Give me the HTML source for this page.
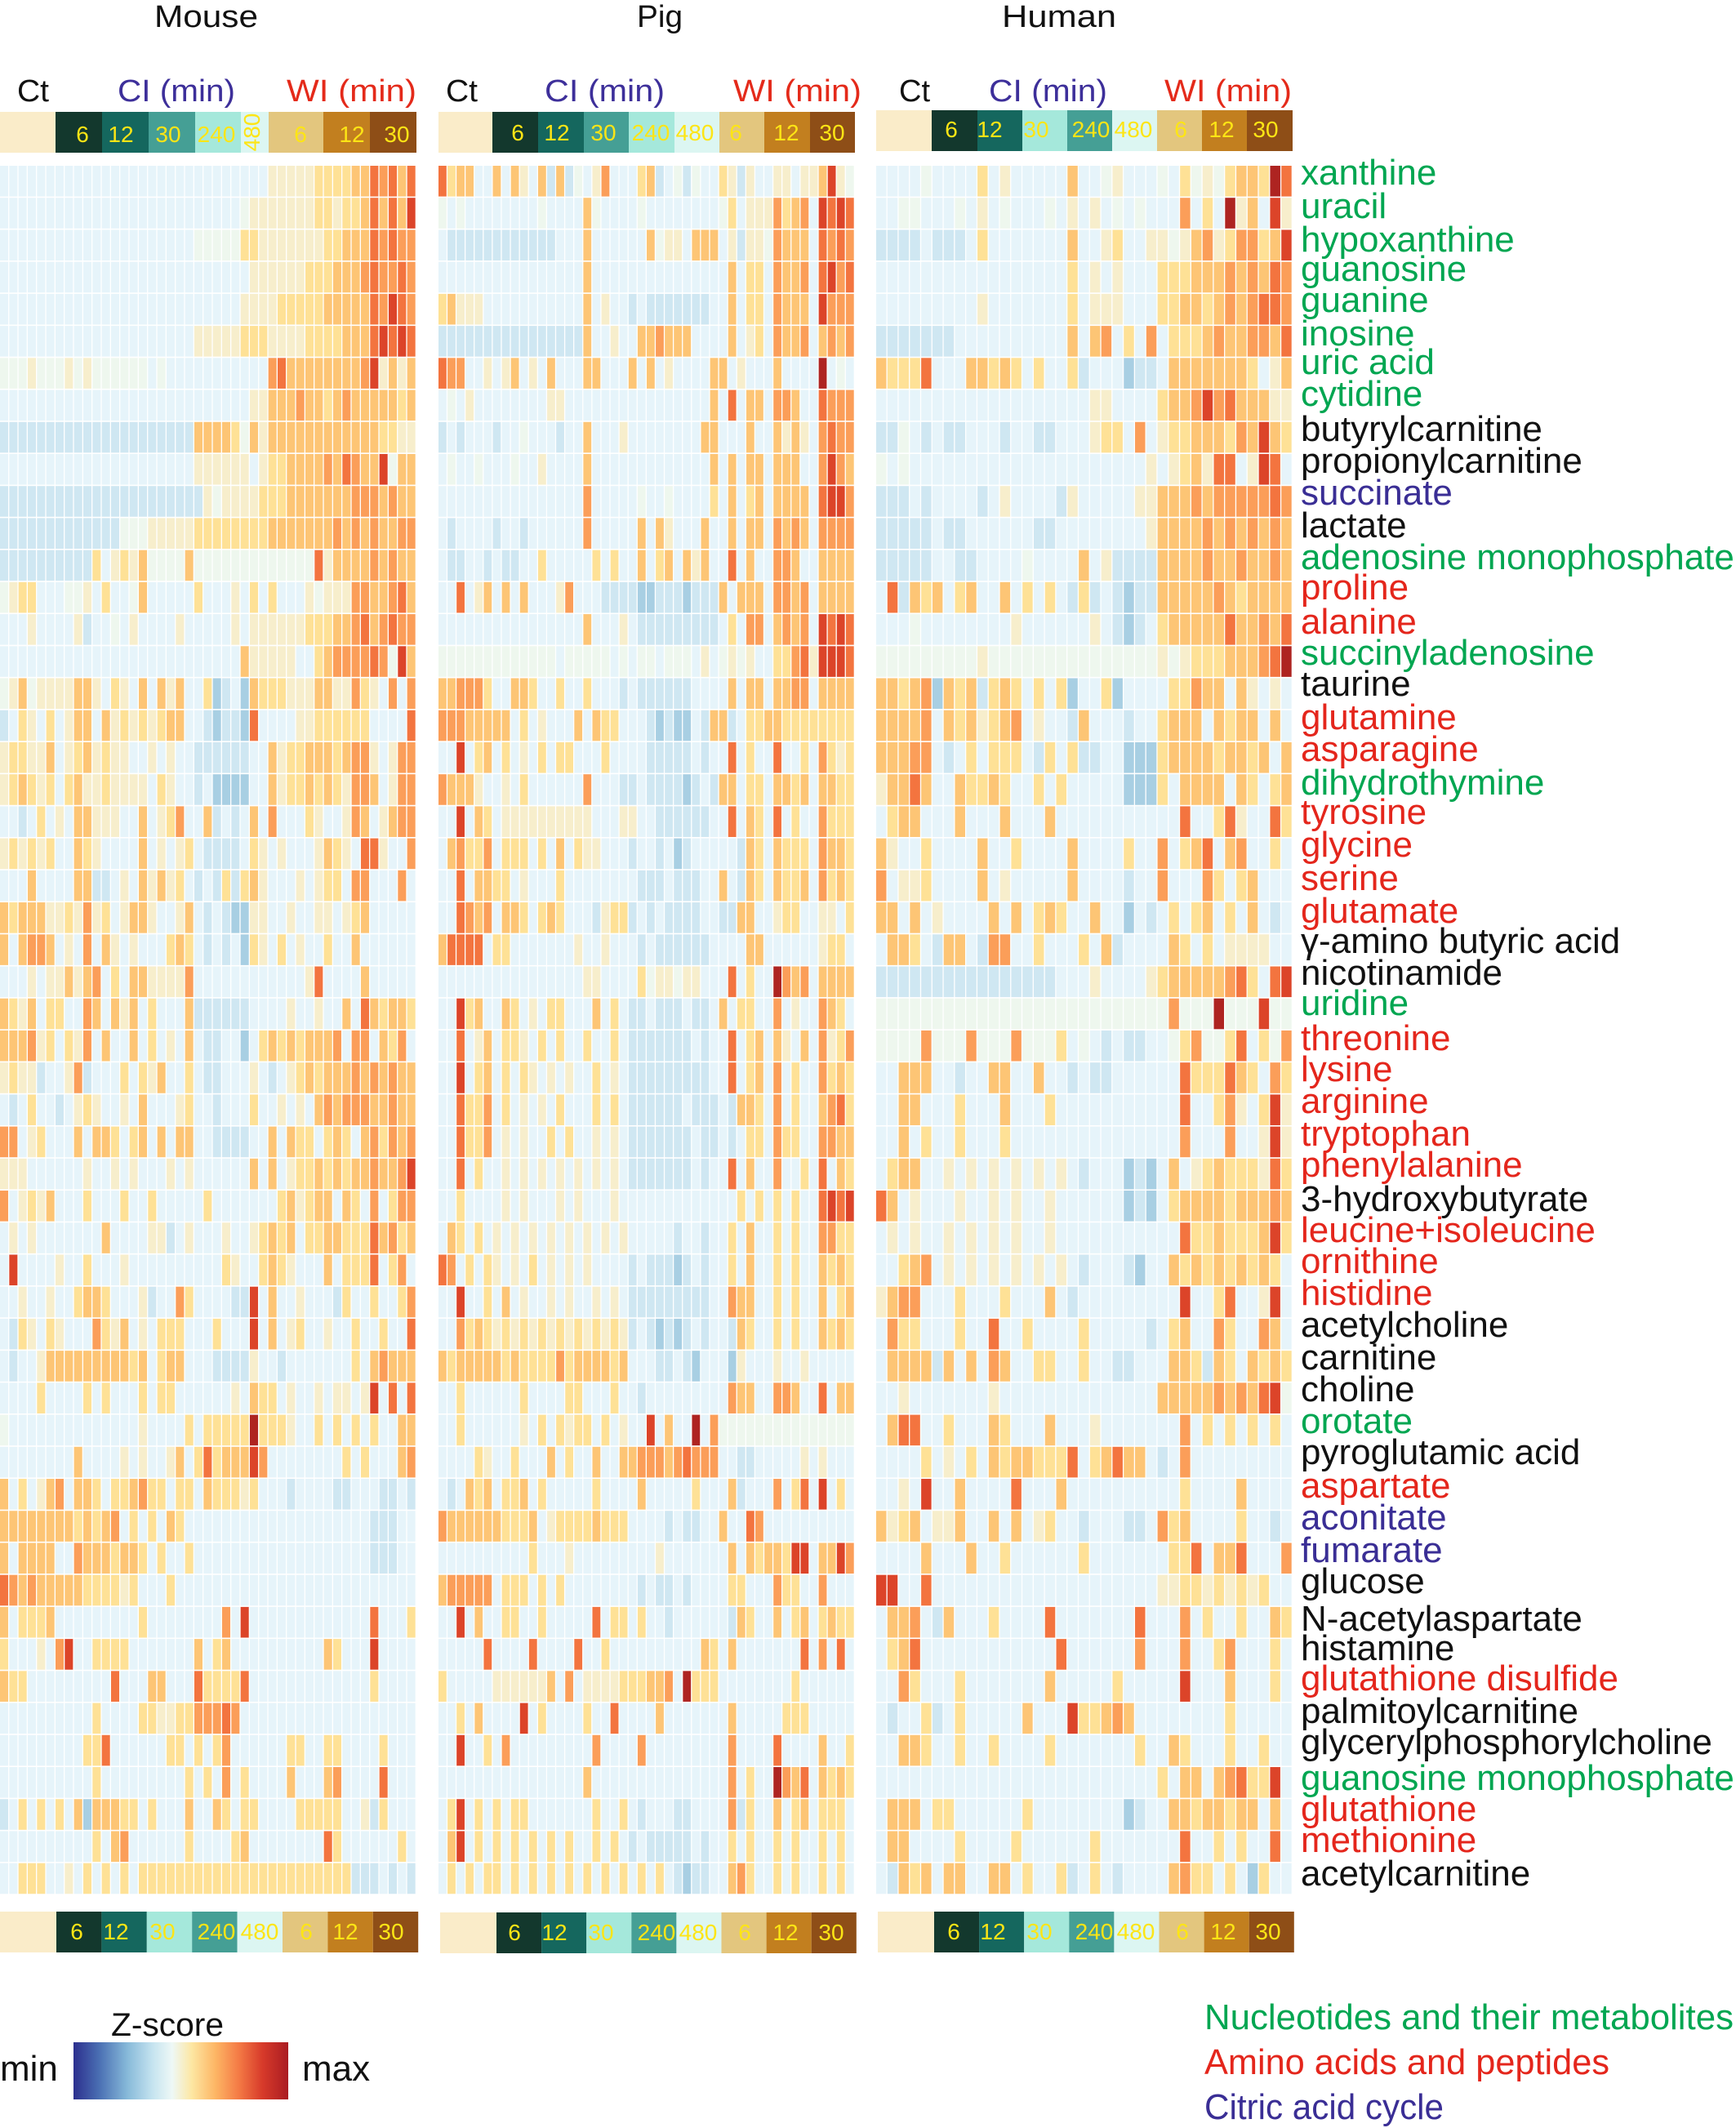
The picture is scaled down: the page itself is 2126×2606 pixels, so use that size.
<!DOCTYPE html>
<html>
<head>
<meta charset="utf-8">
<style>
html,body{margin:0;padding:0;background:#ffffff;}
svg{display:block;}
text{font-family:"Liberation Sans",Arial,sans-serif;}
.lab{font-size:44px;}
.g{fill:#00a651;}
.r{fill:#e4261c;}
.b{fill:#3a2e95;}
.k{fill:#111111;}
.num{font-size:28px;fill:#fde515;text-anchor:middle;}
</style>
</head>
<body>
<svg id="s" width="2126" height="2606" viewBox="0 0 2126 2606" xmlns="http://www.w3.org/2000/svg">
<defs>
<linearGradient id="zg" x1="0" x2="1" y1="0" y2="0">
<stop offset="0" stop-color="#2c2f8e"/>
<stop offset="0.12" stop-color="#4a6fb3"/>
<stop offset="0.25" stop-color="#86b9d9"/>
<stop offset="0.37" stop-color="#c6e4f0"/>
<stop offset="0.46" stop-color="#eef8f6"/>
<stop offset="0.55" stop-color="#fde7a3"/>
<stop offset="0.66" stop-color="#fdb665"/>
<stop offset="0.77" stop-color="#f47a45"/>
<stop offset="0.88" stop-color="#d73a2a"/>
<stop offset="1" stop-color="#aa1c22"/>
</linearGradient>
</defs>
<rect x="0" y="0" width="2126" height="2606" fill="#ffffff"/>

<!-- Titles -->
<text x="189" y="33" font-size="38" textLength="127" lengthAdjust="spacingAndGlyphs" fill="#111">Mouse</text>
<text x="780" y="33" font-size="38" textLength="56" lengthAdjust="spacingAndGlyphs" fill="#111">Pig</text>
<text x="1227" y="33" font-size="38" textLength="140" lengthAdjust="spacingAndGlyphs" fill="#111">Human</text>

<!-- Group headers -->
<text x="21" y="124" font-size="38" textLength="39" lengthAdjust="spacingAndGlyphs" fill="#111">Ct</text>
<text x="144" y="124" font-size="38" textLength="144" lengthAdjust="spacingAndGlyphs" fill="#3d2f9a">CI (min)</text>
<text x="351" y="124" font-size="38" textLength="159" lengthAdjust="spacingAndGlyphs" fill="#e42a1a">WI (min)</text>
<text x="546" y="124" font-size="38" textLength="39" lengthAdjust="spacingAndGlyphs" fill="#111">Ct</text>
<text x="667" y="124" font-size="38" textLength="147" lengthAdjust="spacingAndGlyphs" fill="#3d2f9a">CI (min)</text>
<text x="898" y="124" font-size="38" textLength="157" lengthAdjust="spacingAndGlyphs" fill="#e42a1a">WI (min)</text>
<text x="1101" y="124" font-size="38" textLength="38" lengthAdjust="spacingAndGlyphs" fill="#111">Ct</text>
<text x="1211" y="124" font-size="38" textLength="145" lengthAdjust="spacingAndGlyphs" fill="#3d2f9a">CI (min)</text>
<text x="1426" y="124" font-size="38" textLength="156" lengthAdjust="spacingAndGlyphs" fill="#e42a1a">WI (min)</text>

<!-- Top bars: Mouse -->
<rect x="0" y="137" width="68" height="50" fill="#faecc9"/>
<rect x="68" y="137" width="57" height="50" fill="#13382d"/>
<rect x="125" y="137" width="57" height="50" fill="#15675e"/>
<rect x="182" y="137" width="57" height="50" fill="#459f95"/>
<rect x="239" y="137" width="56" height="50" fill="#a5e8db"/>
<rect x="295" y="137" width="34" height="50" fill="#dcf6f2"/>
<rect x="329" y="137" width="67" height="50" fill="#e3c67e"/>
<rect x="396" y="137" width="57" height="50" fill="#c27f1f"/>
<rect x="453" y="137" width="57" height="50" fill="#8e4e17"/>
<text class="num" x="101" y="174">6</text>
<text class="num" x="148" y="174">12</text>
<text class="num" x="206" y="174">30</text>
<text class="num" x="265" y="174">240</text>
<text class="num" font-size="26" transform="translate(318,162) rotate(-90)" x="0" y="0">480</text>
<text class="num" x="368" y="174">6</text>
<text class="num" x="431" y="174">12</text>
<text class="num" x="486" y="174">30</text>

<!-- Top bars: Pig -->
<rect x="537" y="137" width="66" height="50" fill="#faecc9"/>
<rect x="603" y="137" width="56" height="50" fill="#13382d"/>
<rect x="659" y="137" width="56" height="50" fill="#15675e"/>
<rect x="715" y="137" width="55" height="50" fill="#459f95"/>
<rect x="770" y="137" width="56" height="50" fill="#a5e8db"/>
<rect x="826" y="137" width="55" height="50" fill="#dcf6f2"/>
<rect x="881" y="137" width="55" height="50" fill="#e3c67e"/>
<rect x="936" y="137" width="56" height="50" fill="#c27f1f"/>
<rect x="992" y="137" width="55" height="50" fill="#8e4e17"/>
<text class="num" x="634" y="172">6</text>
<text class="num" x="682" y="172">12</text>
<text class="num" x="739" y="172">30</text>
<text class="num" x="797" y="172">240</text>
<text class="num" x="851" y="172">480</text>
<text class="num" x="901" y="172">6</text>
<text class="num" x="963" y="172">12</text>
<text class="num" x="1019" y="172">30</text>

<!-- Top bars: Human -->
<rect x="1073" y="135" width="68" height="50" fill="#faecc9"/>
<rect x="1141" y="135" width="56" height="50" fill="#13382d"/>
<rect x="1197" y="135" width="55" height="50" fill="#15675e"/>
<rect x="1252" y="135" width="55" height="50" fill="#a5e8db"/>
<rect x="1307" y="135" width="55" height="50" fill="#459f95"/>
<rect x="1362" y="135" width="55" height="50" fill="#dcf6f2"/>
<rect x="1417" y="135" width="55" height="50" fill="#e3c67e"/>
<rect x="1472" y="135" width="55" height="50" fill="#c27f1f"/>
<rect x="1527" y="135" width="56" height="50" fill="#8e4e17"/>
<text class="num" x="1165" y="168">6</text>
<text class="num" x="1212" y="168">12</text>
<text class="num" x="1269" y="168">30</text>
<text class="num" x="1336" y="168">240</text>
<text class="num" x="1388" y="168">480</text>
<text class="num" x="1446" y="168">6</text>
<text class="num" x="1496" y="168">12</text>
<text class="num" x="1550" y="168">30</text>

<!-- Heatmap cells (generated) -->
<g id="cells"></g>

<!-- Bottom bars: Mouse -->
<rect x="0" y="2341" width="69" height="50" fill="#faecc9"/>
<rect x="69" y="2341" width="55.4" height="50" fill="#13382d"/>
<rect x="124.4" y="2341" width="55.4" height="50" fill="#15675e"/>
<rect x="179.8" y="2341" width="55.4" height="50" fill="#a5e8db"/>
<rect x="235.2" y="2341" width="55.4" height="50" fill="#459f95"/>
<rect x="290.6" y="2341" width="55.4" height="50" fill="#dcf6f2"/>
<rect x="346" y="2341" width="55.4" height="50" fill="#e3c67e"/>
<rect x="401.4" y="2341" width="55.4" height="50" fill="#c27f1f"/>
<rect x="456.8" y="2341" width="55.4" height="50" fill="#8e4e17"/>
<text class="num" x="94" y="2375">6</text>
<text class="num" x="142" y="2375">12</text>
<text class="num" x="199" y="2375">30</text>
<text class="num" x="265" y="2375">240</text>
<text class="num" x="318" y="2375">480</text>
<text class="num" x="375" y="2375">6</text>
<text class="num" x="423" y="2375">12</text>
<text class="num" x="479" y="2375">30</text>

<!-- Bottom bars: Pig -->
<rect x="539" y="2342" width="69" height="50" fill="#faecc9"/>
<rect x="608" y="2342" width="55.1" height="50" fill="#13382d"/>
<rect x="663.1" y="2342" width="55.1" height="50" fill="#15675e"/>
<rect x="718.2" y="2342" width="55.1" height="50" fill="#a5e8db"/>
<rect x="773.3" y="2342" width="55.1" height="50" fill="#459f95"/>
<rect x="828.4" y="2342" width="55.1" height="50" fill="#dcf6f2"/>
<rect x="883.5" y="2342" width="55.1" height="50" fill="#e3c67e"/>
<rect x="938.6" y="2342" width="55.1" height="50" fill="#c27f1f"/>
<rect x="993.7" y="2342" width="55.1" height="50" fill="#8e4e17"/>
<text class="num" x="630" y="2376">6</text>
<text class="num" x="679" y="2376">12</text>
<text class="num" x="736" y="2376">30</text>
<text class="num" x="804" y="2376">240</text>
<text class="num" x="855" y="2376">480</text>
<text class="num" x="912" y="2376">6</text>
<text class="num" x="962" y="2376">12</text>
<text class="num" x="1018" y="2376">30</text>

<!-- Bottom bars: Human -->
<rect x="1075" y="2341" width="69" height="50" fill="#faecc9"/>
<rect x="1144" y="2341" width="55.1" height="50" fill="#13382d"/>
<rect x="1199.1" y="2341" width="55.1" height="50" fill="#15675e"/>
<rect x="1254.2" y="2341" width="55.1" height="50" fill="#a5e8db"/>
<rect x="1309.3" y="2341" width="55.1" height="50" fill="#459f95"/>
<rect x="1364.4" y="2341" width="55.1" height="50" fill="#dcf6f2"/>
<rect x="1419.5" y="2341" width="55.1" height="50" fill="#e3c67e"/>
<rect x="1474.6" y="2341" width="55.1" height="50" fill="#c27f1f"/>
<rect x="1529.7" y="2341" width="55.1" height="50" fill="#8e4e17"/>
<text class="num" x="1168" y="2375">6</text>
<text class="num" x="1216" y="2375">12</text>
<text class="num" x="1273" y="2375">30</text>
<text class="num" x="1340" y="2375">240</text>
<text class="num" x="1391" y="2375">480</text>
<text class="num" x="1448" y="2375">6</text>
<text class="num" x="1498" y="2375">12</text>
<text class="num" x="1553" y="2375">30</text>

<!-- Row labels -->
<text class="lab g" x="1593" y="226">xanthine</text>
<text class="lab g" x="1593" y="267">uracil</text>
<text class="lab g" x="1593" y="308">hypoxanthine</text>
<text class="lab g" x="1593" y="344">guanosine</text>
<text class="lab g" x="1593" y="382">guanine</text>
<text class="lab g" x="1593" y="423">inosine</text>
<text class="lab g" x="1593" y="458">uric acid</text>
<text class="lab g" x="1593" y="497">cytidine</text>
<text class="lab k" x="1593" y="540">butyrylcarnitine</text>
<text class="lab k" x="1593" y="579">propionylcarnitine</text>
<text class="lab b" x="1593" y="618">succinate</text>
<text class="lab k" x="1593" y="658">lactate</text>
<text class="lab g" x="1593" y="697">adenosine monophosphate</text>
<text class="lab r" x="1593" y="734">proline</text>
<text class="lab r" x="1593" y="776">alanine</text>
<text class="lab g" x="1593" y="814">succinyladenosine</text>
<text class="lab k" x="1593" y="852">taurine</text>
<text class="lab r" x="1593" y="893">glutamine</text>
<text class="lab r" x="1593" y="932">asparagine</text>
<text class="lab g" x="1593" y="973">dihydrothymine</text>
<text class="lab r" x="1593" y="1009">tyrosine</text>
<text class="lab r" x="1593" y="1049">glycine</text>
<text class="lab r" x="1593" y="1090">serine</text>
<text class="lab r" x="1593" y="1130">glutamate</text>
<text class="lab k" x="1593" y="1167">γ-amino butyric acid</text>
<text class="lab k" x="1593" y="1206">nicotinamide</text>
<text class="lab g" x="1593" y="1243">uridine</text>
<text class="lab r" x="1593" y="1286">threonine</text>
<text class="lab r" x="1593" y="1324">lysine</text>
<text class="lab r" x="1593" y="1363">arginine</text>
<text class="lab r" x="1593" y="1403">tryptophan</text>
<text class="lab r" x="1593" y="1441">phenylalanine</text>
<text class="lab k" x="1593" y="1483">3-hydroxybutyrate</text>
<text class="lab r" x="1593" y="1521">leucine+isoleucine</text>
<text class="lab r" x="1593" y="1559">ornithine</text>
<text class="lab r" x="1593" y="1598">histidine</text>
<text class="lab k" x="1593" y="1637">acetylcholine</text>
<text class="lab k" x="1593" y="1677">carnitine</text>
<text class="lab k" x="1593" y="1716">choline</text>
<text class="lab g" x="1593" y="1755">orotate</text>
<text class="lab k" x="1593" y="1793">pyroglutamic acid</text>
<text class="lab r" x="1593" y="1834">aspartate</text>
<text class="lab b" x="1593" y="1873">aconitate</text>
<text class="lab b" x="1593" y="1913">fumarate</text>
<text class="lab k" x="1593" y="1951">glucose</text>
<text class="lab k" x="1593" y="1997">N-acetylaspartate</text>
<text class="lab k" x="1593" y="2033">histamine</text>
<text class="lab r" x="1593" y="2070">glutathione disulfide</text>
<text class="lab k" x="1593" y="2110">palmitoylcarnitine</text>
<text class="lab k" x="1593" y="2148">glycerylphosphorylcholine</text>
<text class="lab g" x="1593" y="2192">guanosine monophosphate</text>
<text class="lab r" x="1593" y="2230">glutathione</text>
<text class="lab r" x="1593" y="2268">methionine</text>
<text class="lab k" x="1593" y="2309">acetylcarnitine</text>

<!-- Z-score legend -->
<text x="136" y="2493" font-size="40" textLength="138" lengthAdjust="spacingAndGlyphs" fill="#111">Z-score</text>
<rect x="90" y="2501" width="263" height="70" fill="url(#zg)"/>
<text x="0" y="2548" font-size="44" fill="#111">min</text>
<text x="370" y="2548" font-size="44" fill="#111">max</text>

<!-- Category legend -->
<text x="1475" y="2485" font-size="44" textLength="648" lengthAdjust="spacingAndGlyphs" fill="#00a651">Nucleotides and their metabolites</text>
<text x="1475" y="2540" font-size="44" textLength="496" lengthAdjust="spacingAndGlyphs" fill="#e4261c">Amino acids and peptides</text>
<text x="1475" y="2595" font-size="44" textLength="293" lengthAdjust="spacingAndGlyphs" fill="#3a2e95">Citric acid cycle</text>
</svg>

<script>
(function(){
var pal={'1':'#a8cfe3','2':'#cfe7f2','3':'#e6f4fa','4':'#eef7ee','5':'#f7eecc','6':'#fee196','7':'#fdc575','8':'#fb9e59','9':'#f3743f','A':'#dc4429','B':'#ae2421'};
var panels=[
 {x0:0,pitch:11.333,groups:[6,5,5,5,5,3,6,5,5]},
 {x0:537,pitch:11.087,groups:[6,5,5,5,5,5,5,5,5]},
 {x0:1073,pitch:13.784,groups:[5,4,4,4,4,4,4,4,4]}
];
var D=[
["333333 33333 33333 33333 33333 333 555556 66677 98979","967733 73753 72724 35833 36723 42433 65253 35535 57A54","33334 3333 6353 3333 7334 5333 4364 5467 76B9"],
["333333 33333 33333 33333 33333 455 555556 65667 9797A","434333 33333 43333 74333 34333 33333 46355 58678 3A9A9","33443 3343 5343 3343 5353 4343 3383 63B5 73A5"],
["333333 33333 33333 33333 44444 665 555555 66777 98988","322222 22222 22333 73333 33745 53777 35255 48777 39898","22223 2223 6333 3333 7335 6335 5457 8568 867A"],
["333333 33333 33333 33333 33333 355 555566 67778 98898","333333 33333 33333 73333 33333 33333 37366 38778 39A89","33333 3333 3333 3333 6353 5333 6667 7787 8798"],
["333333 33333 33333 33333 33333 555 566666 77777 98A98","675553 33333 33333 73533 23222 22223 37366 38777 3A888","33333 3333 5333 3333 6355 5333 6677 6787 8998"],
["333333 33333 33333 33333 55555 666 555566 66777 9A9A9","222222 22222 22222 73353 37787 77333 37356 38778 37878","22222 2233 3333 3333 7378 3638 3666 7877 8879"],
["444544 45454 44444 34333 33333 333 897777 77778 A5757","988335 35735 37333 77333 73735 33337 73533 37333 3B343","76669 3337 7676 3633 6233 3122 3777 7777 6357"],
["333333 33333 33333 33333 33333 355 777877 67877 77767","343533 33333 35533 33333 33333 33337 39377 38873 39888","33333 3333 3333 3333 3355 3333 6778 A897 7755"],
["222222 22222 22222 22222 77776 475 777777 77777 76655","232333 23343 33233 73335 33333 33377 33373 37575 38988","22432 3223 3323 3223 3356 6383 5667 7768 7A76"],
["333333 33333 33333 33333 55555 535 667777 87987 7A477","343343 33433 53333 73333 33333 33337 37377 37773 38A87","43433 3333 3333 3333 3333 3335 3567 5993 5A93"],
["222222 22222 22222 22222 25455 556 667777 77788 87877","333333 33333 33333 83333 34334 33336 37367 37777 39AA8","22232 3333 2353 3332 5333 3355 7778 7888 8898"],
["222222 22222 22444 55555 66666 666 777777 78787 87788","323333 23323 33333 83333 37375 33373 37377 38787 38888","22222 3223 3333 3223 3333 3335 7777 8787 8787"],
["222222 22226 35657 44447 44444 444 444449 57777 87877","322332 32233 63333 36363 37367 37573 39373 38873 37777","22222 3322 3333 4333 3735 2222 7777 8778 7787"],
["456633 34453 63347 33333 63335 363 633354 55588 77897","339357 37373 33583 33222 21122 21222 73777 38878 37777","39276 7367 3373 6363 2623 2122 7777 7876 7777"],
["333533 33523 34353 33353 33335 355 555566 67789 78988","333333 33333 33333 73335 32222 22222 36388 37878 3A9A9","33343 3333 3335 3333 3353 2123 6777 7797 7879"],
["333333 33333 33333 33333 33333 755 555336 78888 984A7","444444 44444 44344 44434 34434 44353 45453 36689 5AAA9","44444 4444 5444 4444 4444 4444 5456 6677 789B"],
["457455 55775 36537 37573 36123 176 665557 75586 53838","778886 33776 33633 63332 32222 22333 37377 37788 37777","77678 1767 2676 3636 1336 1333 3668 7737 5353"],
["236536 35773 75656 56773 32122 193 333556 66666 33339","888777 77363 53337 37663 33212 11327 72366 77666 66666","77778 3767 5678 3533 2733 3233 6777 3767 7373"],
["566557 35675 65533 53533 22222 233 756677 76788 53588","33A367 36353 63663 33633 33222 22323 39363 39336 38656","77788 3236 3666 3263 6223 3111 6777 7677 6737"],
["567656 36755 65555 36533 23111 133 756676 76588 73588","877753 35363 33333 83332 23222 21232 77366 37767 37766","57797 3376 6763 3636 3333 3111 6377 7737 6367"],
["332363 53775 55337 35683 37232 373 833365 33587 35788","33A376 35555 55555 53335 53322 22223 39376 39363 38666","36773 3373 3373 3373 3333 3333 3393 3695 3396"],
["565656 33765 33337 35356 32222 365 353335 76539 95338","378668 36663 63736 55333 23323 12333 33276 37666 38776","75336 3333 7336 3333 7333 3633 8367 9378 3363"],
["333733 33772 23537 57563 23262 675 333535 66388 33383","339377 66353 33633 33333 32223 22233 73276 37667 38676","83556 3333 7353 3333 7333 3233 8333 8636 7333"],
["767775 56585 63577 53357 32321 155 335335 53567 33333","339878 37763 67633 32566 23232 22233 22773 35663 35536","77373 5333 3737 3676 3373 3132 3636 7363 7323"],
["737887 35383 75353 33676 32323 165 363533 63373 33333","799993 66333 33335 33533 32322 22223 33377 33333 35663","37763 2773 2883 3633 3637 2333 3763 6355 5533"],
["333535 57578 36377 55558 33333 333 333359 33337 33333","333333 33333 33333 55333 36455 45533 39363 3B878 37777","22222 2222 2222 2223 3353 3335 6777 7789 639A"],
["765736 63387 37573 63337 22222 233 335335 33739 76776","33A673 37635 36633 37363 22322 23223 73663 38353 38763","44444 4444 4444 4444 4444 4444 4844 4B44 4A44"],
["777856 36583 73373 63537 32233 136 767677 78388 37683","339357 36653 63633 63363 22222 22323 39367 37537 38568","44448 4448 4448 4446 3432 3223 3468 4469 3648"],
["565523 35823 33636 57336 32233 353 235676 77787 87877","33A367 36365 35353 36353 22222 22223 39367 38363 38676","33777 3323 3773 3733 2322 3333 3396 6697 6386"],
["323633 23565 33537 33356 33233 363 353537 87888 77877","339668 36353 53633 36363 22222 23222 32776 38363 37896","33773 3363 3373 3363 3333 3333 3393 3685 36A5"],
["883563 33737 76367 37377 33222 233 737663 67637 86878","339668 35353 36363 35353 22222 22322 32366 38663 38877","33736 3363 3363 3333 3333 3333 3383 3383 35A5"],
["555333 33353 35353 33535 33333 373 735667 67677 8778A","339363 35353 53535 35353 22222 22323 39373 38336 39376","36773 3535 3535 3535 3233 3121 3735 6766 6596"],
["835657 33363 33633 63333 36333 333 367567 73763 83688","336333 35353 33535 33353 33333 33333 33636 36363 39A9A","97353 3353 3535 3353 3333 3121 3677 7767 7787"],
["353533 33333 73333 55235 33353 356 767366 77666 97867","376363 53535 35353 53535 33333 23323 36373 36363 38866","35353 3535 3535 3353 3333 3333 3396 6766 67A6"],
["3A3333 53363 33533 33333 33365 336 765333 73666 93683","983636 53536 35353 53333 23222 12323 36373 36363 37676","33678 3535 3535 3535 3233 3213 3767 6767 6763"],
["335335 33677 63335 23386 33332 2A3 733533 32633 63368","33A336 37353 35353 35353 22222 22223 38773 36363 37367","57883 3363 3363 3373 2333 3333 33A3 3693 35A3"],
["326536 53338 65735 36663 33633 3A3 735633 53363 36339","338676 56565 65656 56565 23212 12323 32763 36363 37676","38663 3363 3933 6333 3633 3332 3673 3863 3873"],
["323357 77777 77767 36773 33222 253 323333 33363 78777","767777 76766 66867 77767 33322 32133 31533 35335 33333","37777 2737 3873 3663 3633 2233 3776 2763 7676"],
["333363 33363 63336 36633 33335 376 635335 35535 A3939","336333 33363 33366 33363 32333 33333 38773 38873 39377","33533 3333 3533 3333 3333 3333 7777 7878 79A4"],
["433333 33333 33335 33336 36666 6B6 665336 36363 63377","336333 33353 63656 63635 33A37 33B38 44444 44444 44444","37993 3633 3763 3373 3353 3333 3383 6363 6363"],
["333333 33733 33535 33573 69677 7A8 333333 33636 33378","333365 33633 37363 37337 78887 89888 33223 33335 35333","33336 3536 3767 7666 9367 9773 2383 3333 3333"],
["736357 83776 36678 66366 37666 563 332333 32233 32232","323767 36673 63333 36333 37333 33633 37233 38369 3A363","3353A 3373 3339 3337 3333 3333 3363 3337 3333"],
["777777 77676 78363 63763 33333 333 333333 33333 22233","877777 76667 35666 67666 33332 32233 73398 33333 33333","75673 5573 3737 3563 3233 3223 8673 3336 3323"],
["737777 33877 76776 36336 33333 333 333333 33333 22233","333333 33336 33353 33333 33353 33333 37376 776AA 377A8","33337 3337 3363 3333 3633 3333 3669 3779 3338"],
["987877 77766 66563 33633 33333 333 333333 33333 33333","788888 36663 63633 33333 32322 32333 36633 38663 38333","AA339 3333 3333 3333 3333 3333 5566 5656 5633"],
["736667 33333 33336 33333 33383 A33 333333 33333 93336","33A373 36633 63333 39366 36332 33333 32763 37367 36766","37783 2733 3633 3393 3333 3393 3383 6336 3376"],
["633353 8A336 66633 33333 73673 333 333333 76333 A3333","333339 33339 33339 33633 33333 33376 37333 33339 38393","36793 3333 3333 3339 3333 3383 3383 3683 3363"],
["766333 33333 39333 77333 96666 933 333333 33333 63333","633333 55555 57383 55556 66778 3B666 33333 33363 33333","33863 3363 3333 3373 3333 6333 33A3 3373 3363"],
["333333 33336 33336 65566 88898 333 333333 33333 33333","336373 333A3 63333 63393 33373 33333 37333 33666 33333","32336 2363 3333 7333 A667 8733 3333 3363 3333"],
["333333 33366 93333 33663 63683 333 336633 66333 36333","33A336 38333 33333 38333 38333 33333 38333 39333 37336","33776 3363 3633 3363 3333 3363 3763 3363 3633"],
["333333 33336 33333 33336 36383 633 337333 78333 39333","333333 33333 33333 73333 33333 33333 38363 3B879 37676","33333 3333 3333 3333 3333 3333 6377 3789 66A3"],
["236363 63717 77663 63337 33763 663 333666 66335 26333","36A363 63663 33333 36336 32333 22333 38263 37367 36663","37773 6633 3333 6333 3333 3123 3776 7767 7373"],
["333333 33336 37833 33336 33336 733 333333 96333 33363","37A363 63636 36363 36363 23222 22323 36363 36363 36363","37733 3363 3336 3333 3363 3333 3393 3636 3393"],
["336663 35363 63636 66666 66666 666 666666 66622 23232","363636 63636 36363 63636 36363 21223 37863 36363 36363","32767 3773 3773 6336 2363 2333 3786 6363 1633"]
];
var NS="http://www.w3.org/2000/svg";
var g=document.getElementById("cells");
var frag=document.createDocumentFragment();
for(var r=0;r<D.length;r++){
  var y=203+r*39.22;
  for(var p=0;p<3;p++){
    var P=panels[p];
    var toks=D[r][p].split(" ");
    var cols="";
    for(var k=0;k<P.groups.length;k++){
      var n=P.groups[k];
      var t=toks[k]||"3";
      while(t.length<n){t+=t.charAt(t.length-1);}
      cols+=t.substring(0,n);
    }
    for(var c=0;c<cols.length;c++){
      var e=document.createElementNS(NS,"rect");
      e.setAttribute("x",(P.x0+c*P.pitch).toFixed(2));
      e.setAttribute("y",y.toFixed(2));
      e.setAttribute("width",(P.pitch-1.3).toFixed(2));
      e.setAttribute("height","37.6");
      e.setAttribute("fill",pal[cols.charAt(c)]||pal["3"]);
      frag.appendChild(e);
    }
  }
}
g.appendChild(frag);
})();
</script>
</body>
</html>
